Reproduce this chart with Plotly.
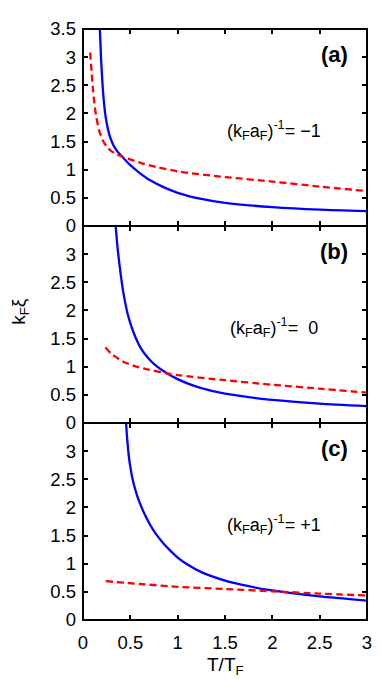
import plotly.graph_objects as go

# ---- data ----
# panel (a): (k_F a_F)^-1 = -1
a_blue_x = [0.178, 0.19, 0.205, 0.22, 0.24, 0.265, 0.29, 0.32, 0.36, 0.42, 0.50, 0.60, 0.70, 0.85, 1.0, 1.25, 1.5, 2.0, 2.5, 3.0]
a_blue_y = [3.5, 3.0, 2.55, 2.22, 1.93, 1.71, 1.56, 1.44, 1.33, 1.22, 1.08, 0.94, 0.82, 0.69, 0.59, 0.48, 0.41, 0.335, 0.29, 0.265]
a_red_x = [0.076, 0.09, 0.104, 0.12, 0.139, 0.17, 0.21, 0.25, 0.30, 0.36, 0.42, 0.52, 0.63, 0.80, 1.0, 1.5, 2.0, 2.5, 3.0]
a_red_y = [3.08, 2.75, 2.45, 2.18, 1.95, 1.70, 1.52, 1.41, 1.33, 1.27, 1.23, 1.17, 1.11, 1.04, 0.97, 0.87, 0.79, 0.70, 0.62]

# panel (b): (k_F a_F)^-1 = 0
b_blue_x = [0.345, 0.36, 0.375, 0.40, 0.43, 0.47, 0.51, 0.56, 0.61, 0.69, 0.77, 0.89, 1.0, 1.11, 1.25, 1.5, 1.75, 2.0, 2.5, 3.0]
b_blue_y = [3.5, 3.2, 2.96, 2.62, 2.28, 1.95, 1.72, 1.50, 1.33, 1.15, 1.02, 0.88, 0.78, 0.70, 0.62, 0.52, 0.46, 0.41, 0.345, 0.30]
b_red_x = [0.236, 0.30, 0.385, 0.45, 0.59, 0.69, 0.89, 1.0, 1.5, 2.0, 2.5, 3.0]
b_red_y = [1.34, 1.23, 1.13, 1.07, 0.99, 0.95, 0.88, 0.85, 0.76, 0.68, 0.61, 0.54]

# panel (c): (k_F a_F)^-1 = +1
c_blue_x = [0.455, 0.47, 0.485, 0.50, 0.52, 0.55, 0.59, 0.64, 0.70, 0.77, 0.85, 0.93, 1.0, 1.1, 1.25, 1.5, 1.75, 2.0, 2.5, 3.0]
c_blue_y = [3.5, 3.15, 2.90, 2.72, 2.53, 2.33, 2.12, 1.92, 1.72, 1.53, 1.36, 1.22, 1.11, 0.99, 0.85, 0.70, 0.60, 0.525, 0.42, 0.345]
c_red_x = [0.24, 0.6, 1.0, 1.5, 2.0, 2.5, 3.0]
c_red_y = [0.69, 0.64, 0.59, 0.55, 0.51, 0.47, 0.435]

x_ticks = [0, 0.5, 1, 1.5, 2, 2.5, 3]
x_tick_labels = ["0", "0.5", "1", "1.5", "2", "2.5", "3"]
y_ticks_top = [0, 0.5, 1, 1.5, 2, 2.5, 3, 3.5]
y_ticks_top_labels = ["0", "0.5", "1", "1.5", "2", "2.5", "3", "3.5"]
y_ticks = [0, 0.5, 1, 1.5, 2, 2.5, 3]
y_ticks_labels = ["0", "0.5", "1", "1.5", "2", "2.5", "3"]

panel_labels = ["(a)", "(b)", "(c)"]
coupling_labels = ["(k<sub>F</sub>a<sub>F</sub>)<sup>-1</sup>= \u22121",
                   "(k<sub>F</sub>a<sub>F</sub>)<sup>-1</sup>=  0",
                   "(k<sub>F</sub>a<sub>F</sub>)<sup>-1</sup>= +1"]

FONT = "Liberation Sans"
BLUE = "#0000ff"
RED = "#ff0000"
TICK_SIZE = 18.5

fig = go.Figure()

panels = [
    (a_blue_x, a_blue_y, a_red_x, a_red_y),
    (b_blue_x, b_blue_y, b_red_x, b_red_y),
    (c_blue_x, c_blue_y, c_red_x, c_red_y),
]

for i, (bx, by, rx, ry) in enumerate(panels):
    xa = "x" if i == 0 else f"x{i+1}"
    ya = "y" if i == 0 else f"y{i+1}"
    fig.add_trace(go.Scatter(x=bx, y=by, mode="lines", xaxis=xa, yaxis=ya,
                             line=dict(color=BLUE, width=2.3, shape="spline", smoothing=0.6),
                             showlegend=False, hoverinfo="skip"))
    fig.add_trace(go.Scatter(x=rx, y=ry, mode="lines", xaxis=xa, yaxis=ya,
                             line=dict(color=RED, width=2.3, dash="7px,4px", shape="spline", smoothing=0.6),
                             showlegend=False, hoverinfo="skip"))

domains = [[2/3, 1.0], [1/3, 2/3], [0.0, 1/3]]
axis_common = dict(showline=False, mirror="ticks",
                   ticks="inside", ticklen=5, tickwidth=1.5, tickcolor="black",
                   showgrid=False, zeroline=False, ticklabeloverflow="allow",
                   tickfont=dict(family=FONT, size=TICK_SIZE, color="black"))

# the page body adds an 8px offset, so the figure is sized to fit the window
layout = dict(
    width=374, height=671,
    margin=dict(l=75, r=10, t=16, b=59),
    paper_bgcolor="white", plot_bgcolor="white",
    showlegend=False,
)

for i in range(3):
    xk = "xaxis" if i == 0 else f"xaxis{i+1}"
    yk = "yaxis" if i == 0 else f"yaxis{i+1}"
    ya = "y" if i == 0 else f"y{i+1}"
    xa = "x" if i == 0 else f"x{i+1}"
    layout[xk] = dict(axis_common, range=[0, 3], domain=[0, 1], anchor=ya,
                      tickvals=x_ticks, ticktext=x_tick_labels,
                      showticklabels=(i == 2), ticklabelstandoff=9)
    if i == 0:
        tv, tt = y_ticks_top, y_ticks_top_labels
    else:
        tv, tt = y_ticks, y_ticks_labels
    layout[yk] = dict(axis_common, range=[0, 3.5], domain=domains[i], anchor=xa,
                      tickvals=tv, ticktext=tt, ticklabelstandoff=6)

fig.update_layout(**layout)

# panel frames
for d in domains:
    fig.add_shape(type="rect", xref="paper", yref="paper", x0=0, x1=1, y0=d[0], y1=d[1],
                  line=dict(color="black", width=2), fillcolor="rgba(0,0,0,0)", layer="above")

for i in range(3):
    xa = "x" if i == 0 else f"x{i+1}"
    ya = "y" if i == 0 else f"y{i+1}"
    fig.add_annotation(x=2.82, y=3.05, xref=xa, yref=ya, text=f"<b>{panel_labels[i]}</b>",
                       showarrow=False, xanchor="right", yanchor="middle",
                       font=dict(family=FONT, size=22, color="black"))
    fig.add_annotation(x=2.02, y=1.70, xref=xa, yref=ya, text=coupling_labels[i],
                       showarrow=False, xanchor="center", yanchor="middle",
                       font=dict(family=FONT, size=18, color="black"))

fig.add_annotation(x=-0.222, y=0.523, xref="paper", yref="paper",
                   text="k<sub>F</sub>\u03be", textangle=-90, showarrow=False,
                   xanchor="center", yanchor="middle",
                   font=dict(family=FONT, size=19, color="black"))
fig.add_annotation(x=0.5, y=-0.077, xref="paper", yref="paper",
                   text="T/T<sub>F</sub>", showarrow=False,
                   xanchor="center", yanchor="middle",
                   font=dict(family=FONT, size=19, color="black"))

fig.write_html("out.html")
